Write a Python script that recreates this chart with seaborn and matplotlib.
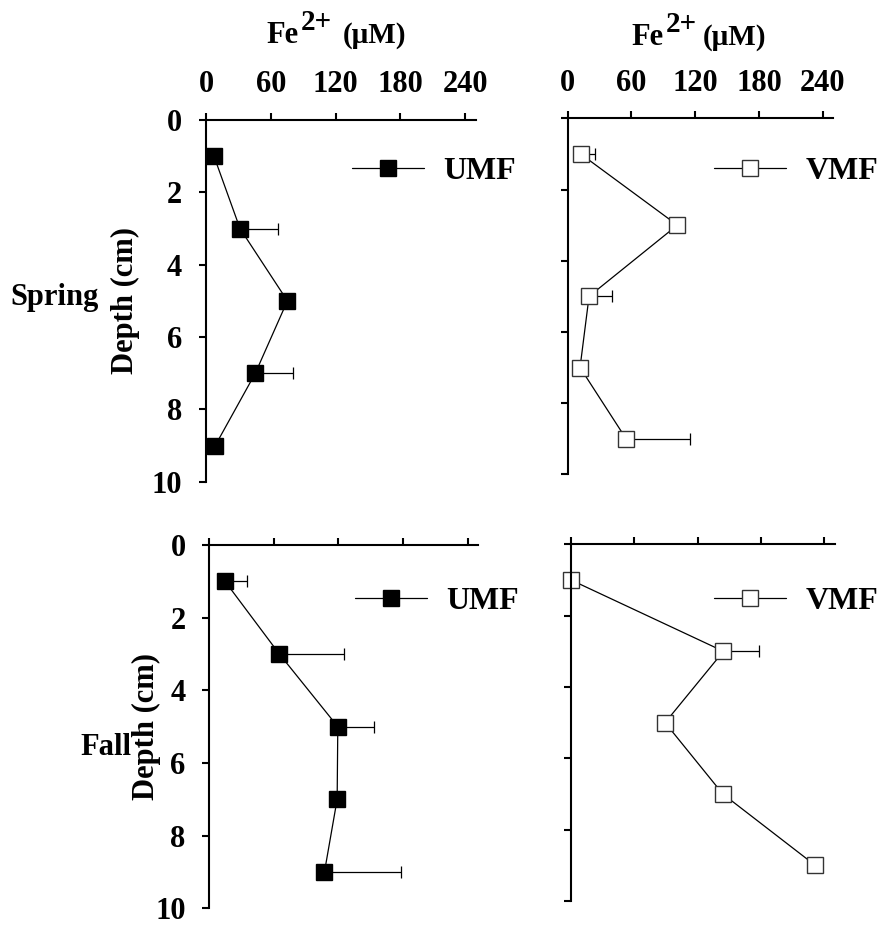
import numpy as np
import pandas as pd
import matplotlib
matplotlib.use("Agg")
import matplotlib.pyplot as plt
import seaborn as sns

# Depth-profile data (Fe2+ in µM, depth in cm)
depth = [1, 3, 5, 7, 9]

spring_umf = [7.4, 31.5, 75.4, 45.7, 8.6]
spring_umf_err = [0, 35, 0, 35, 0]

spring_vmf = [12.2, 103.2, 20.1, 11.6, 54.9]
spring_vmf_err = [13.5, 0, 22, 0, 60.6]

fall_umf = [14.6, 65.1, 119.4, 118.8, 107.0]
fall_umf_err = [20.5, 60, 34, 0, 71]

fall_vmf = [0.0, 144.4, 89.1, 143.8, 231.3]
fall_vmf_err = [0, 34, 0, 0, 0]

x_ticks = [0, 60, 120, 180, 240]
y_ticks = [0, 2, 4, 6, 8, 10]
seasons = ["Spring", "Fall"]
sites = ["UMF", "VMF"]

sns.set_style("white")
plt.rcParams["font.family"] = ["Liberation Serif", "DejaVu Serif"]
plt.rcParams["font.weight"] = "bold"
for key in ["text.color", "axes.labelcolor", "xtick.color", "ytick.color"]:
    plt.rcParams[key] = "black"

fig = plt.figure(figsize=(8.78, 9.26), dpi=100)

# axes rectangles [left, bottom, width, height]
rects = {
    (0, 0): [0.2346, 0.4798, 0.3075, 0.3906],
    (0, 1): [0.6466, 0.4878, 0.3025, 0.3844],
    (1, 0): [0.2384, 0.0191, 0.3064, 0.3923],
    (1, 1): [0.6503, 0.0270, 0.3007, 0.3852],
}
legend_anchor = {
    (0, 0): (0.540, 0.857),
    (0, 1): (0.551, 0.850),
    (1, 0): (0.542, 0.844),
    (1, 1): (0.542, 0.839),
}
ylabel_x = {0: -0.244, 1: -0.180}
series = {
    (0, 0): (spring_umf, spring_umf_err),
    (0, 1): (spring_vmf, spring_vmf_err),
    (1, 0): (fall_umf, fall_umf_err),
    (1, 1): (fall_vmf, fall_vmf_err),
}

for (r, c), rect in rects.items():
    ax = fig.add_axes(rect)
    vals, errs = series[(r, c)]
    df = pd.DataFrame({"fe": vals, "depth": depth})
    filled = c == 0
    face = "black" if filled else "white"
    edge = "black" if filled else "#333333"

    ax.errorbar(vals, depth, xerr=[np.zeros(len(errs)), errs], fmt="none",
                ecolor="black", elinewidth=0.9, capsize=4, capthick=0.9,
                zorder=1.5, clip_on=False)
    sns.lineplot(data=df, x="fe", y="depth", orient="y", sort=True,
                 errorbar=None, ax=ax, color="black", linewidth=0.9,
                 marker="s", markersize=11.5, markerfacecolor=face,
                 markeredgecolor=edge, markeredgewidth=1.0, zorder=2)
    line = ax.lines[-1]
    line.set_clip_on(False)

    ax.set_xlim(0, 250)
    ax.set_ylim(10, 0)
    ax.set_xticks(x_ticks)
    ax.set_yticks(y_ticks)
    ax.xaxis.tick_top()
    ax.tick_params(axis="x", direction="out", length=5, width=1.5,
                   top=True, bottom=False, labeltop=(r == 0),
                   labelbottom=False, labelsize=22, pad=10)
    ax.tick_params(axis="y", direction="out", length=5, width=1.5,
                   left=True, right=False, labelleft=(c == 0),
                   labelsize=22, pad=12)
    for s in ["right", "bottom"]:
        ax.spines[s].set_visible(False)
    for s in ["top", "left"]:
        ax.spines[s].set_linewidth(1.5)
        ax.spines[s].set_color("black")
    ax.set_xlabel("")
    if c == 0:
        ax.set_ylabel("Depth (cm)", fontsize=22, fontweight="bold")
        ax.yaxis.set_label_coords(ylabel_x[r], 0.5)
    else:
        ax.set_ylabel("")

    ax.legend([line], [sites[c]], loc="center left",
              bbox_to_anchor=legend_anchor[(r, c)], frameon=False,
              handlelength=2.26, handletextpad=0.6, borderpad=0,
              borderaxespad=0, numpoints=1,
              prop={"size": 23, "weight": "bold"})

# concentration axis titles above the top row
for fe_x, sup_x, unit_x, base_y in [(0.3037, 0.3425, 0.3907, 0.9536),
                                     (0.7195, 0.7580, 0.8007, 0.9514)]:
    fig.text(fe_x, base_y, "Fe", fontsize=22, fontweight="bold", va="baseline")
    fig.text(sup_x, base_y + 0.0145, "2+", fontsize=21, fontweight="bold",
             va="baseline")
    fig.text(unit_x, base_y, "(μM)", fontsize=21, fontweight="bold",
             va="baseline")

# season labels
fig.text(10 / 878, 1 - 305 / 926, seasons[0], fontsize=22, fontweight="bold",
         va="baseline")
fig.text(80 / 878, 1 - 755 / 926, seasons[1], fontsize=22, fontweight="bold",
         va="baseline")

fig.savefig("out.png", dpi=100)
